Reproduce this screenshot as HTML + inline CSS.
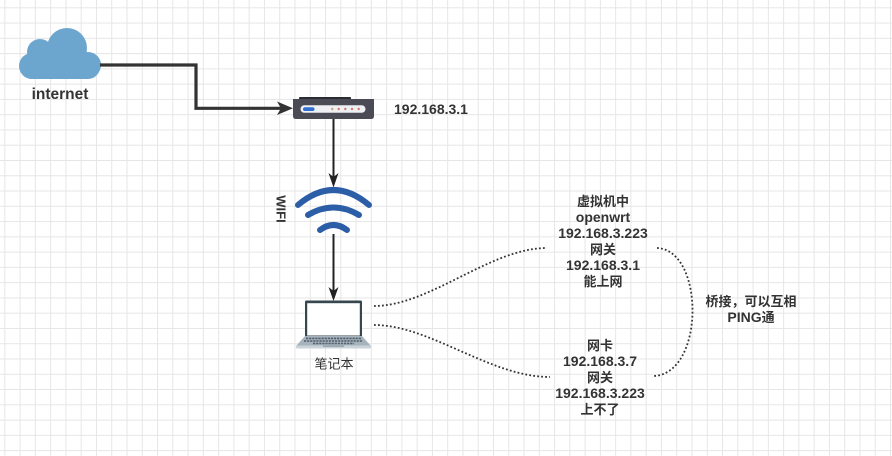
<!DOCTYPE html>
<html>
<head>
<meta charset="utf-8">
<style>
html,body{margin:0;padding:0;background:#fff;}
svg{display:block;}
text{font-family:"Liberation Sans","Noto Sans CJK SC",sans-serif;fill:#333;}
.b{font-weight:bold;font-size:14px;}
.c{font-size:13px;}
</style>
</head>
<body>
<svg width="892" height="456" viewBox="0 0 892 456" xmlns="http://www.w3.org/2000/svg">
  <defs>
    <pattern id="g" x="4.35" y="7.3" width="15.27" height="15.27" patternUnits="userSpaceOnUse">
      <path d="M0 0.5 H15.27 M0.5 0 V15.27" stroke="#e6e6e6" stroke-width="1" fill="none"/>
    </pattern>
  </defs>
  <rect width="892" height="456" fill="#fff"/>
  <rect width="892" height="456" fill="url(#g)"/>

  <!-- cloud -->
  <g fill="#6ca6cf">
    <rect x="20" y="55" width="80" height="24" rx="12"/>
    <circle cx="40" cy="52" r="13"/>
    <circle cx="67" cy="48" r="20"/>
    <circle cx="88" cy="65" r="13"/>
    <circle cx="32" cy="66" r="13"/>
  </g>
  <text x="60" y="99" text-anchor="middle" style="font-weight:bold;font-size:15.5px;">internet</text>

  <!-- thick connector -->
  <path d="M100 65 H196 V108.3 H282" fill="none" stroke="#333" stroke-width="3.2"/>
  <polygon points="293,108.3 277,101.5 281,108.3 277,115" fill="#333"/>

  <!-- router -->
  <rect x="299" y="97" width="52" height="4" rx="1" fill="#2b2b33"/>
  <path d="M293 99 H374 V116 Q374 119 371 119 H296 Q293 119 293 116 Z" fill="#4a4b55"/>
  <rect x="300.5" y="105.3" width="65" height="7.4" rx="3.7" fill="#eef0f4"/>
  <rect x="303" y="107.2" width="11.5" height="3.8" rx="1.9" fill="#2e6fcf"/>
  <circle cx="332.3" cy="109" r="1.2" fill="#c9a27a"/>
  <circle cx="338.7" cy="109" r="1.2" fill="#d47a6a"/>
  <circle cx="345.3" cy="109" r="1.2" fill="#d47a6a"/>
  <circle cx="352" cy="109" r="1.2" fill="#d47a6a"/>
  <circle cx="358.7" cy="109" r="1.2" fill="#d47a6a"/>
  <text x="394" y="114" class="b">192.168.3.1</text>

  <!-- router to wifi -->
  <line x1="333.5" y1="119" x2="333.5" y2="178" stroke="#222" stroke-width="2"/>
  <polygon points="333.5,187.5 328.5,173 333.5,177 338.5,173" fill="#222"/>

  <!-- wifi -->
  <g fill="none" stroke="#2c5ea8" stroke-width="6" stroke-linecap="round">
    <path d="M298 205 Q333.5 175 369 205"/>
    <path d="M308 215 Q333.5 200 359 215"/>
    <path d="M320 230 Q333.5 220 347 230"/>
  </g>
  <text transform="translate(276.5,209) rotate(90)" text-anchor="middle" style="font-weight:bold;font-size:13px;">WIFI</text>

  <!-- wifi to laptop -->
  <line x1="333.5" y1="234" x2="333.5" y2="292" stroke="#222" stroke-width="2"/>
  <polygon points="333.5,301 328.5,287 333.5,291 338.5,287" fill="#222"/>

  <!-- laptop -->
  <rect x="305" y="300.5" width="57" height="37" rx="1.5" fill="#37474f"/>
  <rect x="307.2" y="303.2" width="52.6" height="32.3" fill="#ffffff"/>
  <polygon points="305,336 362,336 371,346 296,346" fill="#a7b3bc"/>
  <g stroke="#4f5f6b" stroke-width="1.6" stroke-dasharray="2.2 0.9">
    <line x1="306" y1="338.4" x2="361" y2="338.4"/>
    <line x1="304" y1="341" x2="363" y2="341"/>
    <line x1="313" y1="343.5" x2="354" y2="343.5"/>
  </g>
  <rect x="296" y="345.5" width="75" height="3" rx="1" fill="#c9d3d9"/>
  <rect x="323" y="345.5" width="21" height="1.5" fill="#9aa7b0"/>
  <text x="334" y="368.5" text-anchor="middle" style="font-size:13px;">笔记本</text>

  <!-- dotted links -->
  <g fill="none" stroke="#333" stroke-width="1.8" stroke-dasharray="1.8 2.2">
    <path d="M374 306 C430 306 490 248 547 248"/>
    <path d="M374 325 C430 325 490 377 550 377"/>
    <path d="M657 248 C705 250 705 375 653 376"/>
  </g>

  <!-- top label -->
  <g text-anchor="middle">
    <text x="603" y="206" class="b"><tspan class="c">虚拟机中</tspan></text>
    <text x="603" y="222" class="b">openwrt</text>
    <text x="603" y="238" class="b">192.168.3.223</text>
    <text x="603" y="254" class="b"><tspan class="c">网关</tspan></text>
    <text x="603" y="270" class="b">192.168.3.1</text>
    <text x="603" y="286" class="b"><tspan class="c">能上网</tspan></text>

    <text x="600" y="350" class="b"><tspan class="c">网卡</tspan></text>
    <text x="600" y="366" class="b">192.168.3.7</text>
    <text x="600" y="382" class="b"><tspan class="c">网关</tspan></text>
    <text x="600" y="398" class="b">192.168.3.223</text>
    <text x="600" y="414" class="b"><tspan class="c">上不了</tspan></text>

    <text x="751" y="306" class="b"><tspan class="c">桥接，可以互相</tspan></text>
    <text x="751" y="322" class="b">PING<tspan class="c">通</tspan></text>
  </g>
</svg>
</body>
</html>
